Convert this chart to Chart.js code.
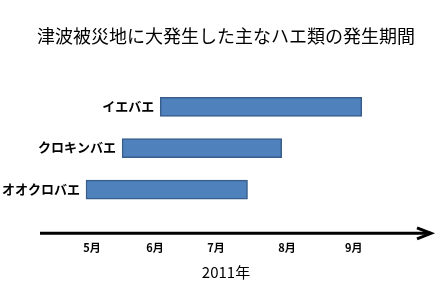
<!DOCTYPE html>
<html>
<head>
<meta charset="utf-8">
<script src="https://cdn.jsdelivr.net/npm/chart.js@4/dist/chart.umd.min.js"></script>
<style>
  html, body { margin: 0; padding: 0; background: #ffffff; }
  #wrap { width: 439px; height: 294px; }
</style>
</head>
<body>
<div id="wrap"><canvas id="c" width="439" height="294"></canvas></div>
<script>
// ---- data (months of 2011, fractional = part of month) ----
const categories = ["イエバエ", "クロキンバエ", "オオクロバエ"];
const startMonth = [6.08, 5.50, 4.95];
const endMonth   = [9.15, 7.93, 7.41];
const tickLabels = ["5月", "6月", "7月", "8月", "9月"];
const tickValues = [5.04, 6.00, 6.93, 8.01, 9.03];
const titleText = "津波被災地に大発生した主なハエ類の発生期間";
const yearLabel = "2011年";

const JP = "'Noto Sans CJK JP', 'Noto Sans', sans-serif";

const rangeData = categories.map((c, i) => [startMonth[i], endMonth[i]]);

const barLabels = {
  id: 'barLabels',
  afterDatasetsDraw(chart) {
    const ctx = chart.ctx;
    const meta = chart.getDatasetMeta(0);
    ctx.save();
    ctx.font = "bold 13px " + JP;
    ctx.fillStyle = "#000";
    ctx.textAlign = "right";
    ctx.textBaseline = "middle";
    meta.data.forEach((el, i) => {
      const left = Math.min(el.x, el.base);
      ctx.fillText(chart.data.labels[i], left - 6, el.y - 1);
    });
    ctx.restore();
  }
};

const arrowAxis = {
  id: 'arrowAxis',
  afterDraw(chart) {
    const ctx = chart.ctx;
    const a = chart.chartArea;
    const y = a.bottom + 23;
    const end = a.right - 7;
    ctx.save();
    ctx.strokeStyle = "#000";
    ctx.lineWidth = 3;
    ctx.beginPath();
    ctx.moveTo(a.left, y);
    ctx.lineTo(end - 1, y);
    ctx.stroke();
    ctx.beginPath();
    ctx.lineJoin = "miter";
    ctx.moveTo(end - 15, y - 5.5);
    ctx.lineTo(end - 1, y);
    ctx.lineTo(end - 15, y + 5.5);
    ctx.stroke();
    ctx.restore();
  }
};

new Chart(document.getElementById('c'), {
  type: 'bar',
  data: {
    labels: categories,
    datasets: [{
      data: rangeData,
      backgroundColor: '#4F81BD',
      borderColor: '#385D8A',
      borderWidth: 1.5,
      borderSkipped: false,
      barThickness: 19
    }]
  },
  options: {
    indexAxis: 'y',
    responsive: false,
    animation: false,
    layout: { padding: { left: 13, right: 0, top: 0, bottom: 0 } },
    plugins: {
      legend: { display: false },
      tooltip: { enabled: false },
      title: {
        display: true,
        text: titleText,
        color: '#000',
        font: { family: JP, size: 18, weight: 'normal' },
        padding: { top: 25.2, bottom: 39.3 }
      },
      subtitle: {
        display: true,
        position: 'bottom',
        text: yearLabel,
        color: '#000',
        font: { family: JP, size: 15, weight: 'normal' },
        padding: { top: 8.5, bottom: 13 }
      }
    },
    scales: {
      x: {
        type: 'linear',
        min: 4.249,
        max: 10.327,
        grid: {
          display: true,
          drawOnChartArea: false,
          drawTicks: true,
          tickLength: 31,
          tickColor: 'rgba(0,0,0,0)',
          color: 'rgba(0,0,0,0)'
        },
        border: { display: false },
        afterBuildTicks(scale) {
          scale.ticks = tickValues.map(v => ({ value: v }));
        },
        ticks: {
          autoSkip: false,
          maxRotation: 0,
          padding: 0,
          color: '#000',
          font: { family: JP, size: 11, weight: 'bold' },
          callback: (v, i) => tickLabels[i]
        }
      },
      y: {
        type: 'category',
        grid: { display: false, drawTicks: false },
        border: { display: false },
        ticks: { display: false },
        afterFit(scale) { scale.width = 27; }
      }
    }
  },
  plugins: [barLabels, arrowAxis]
});
</script>
</body>
</html>
